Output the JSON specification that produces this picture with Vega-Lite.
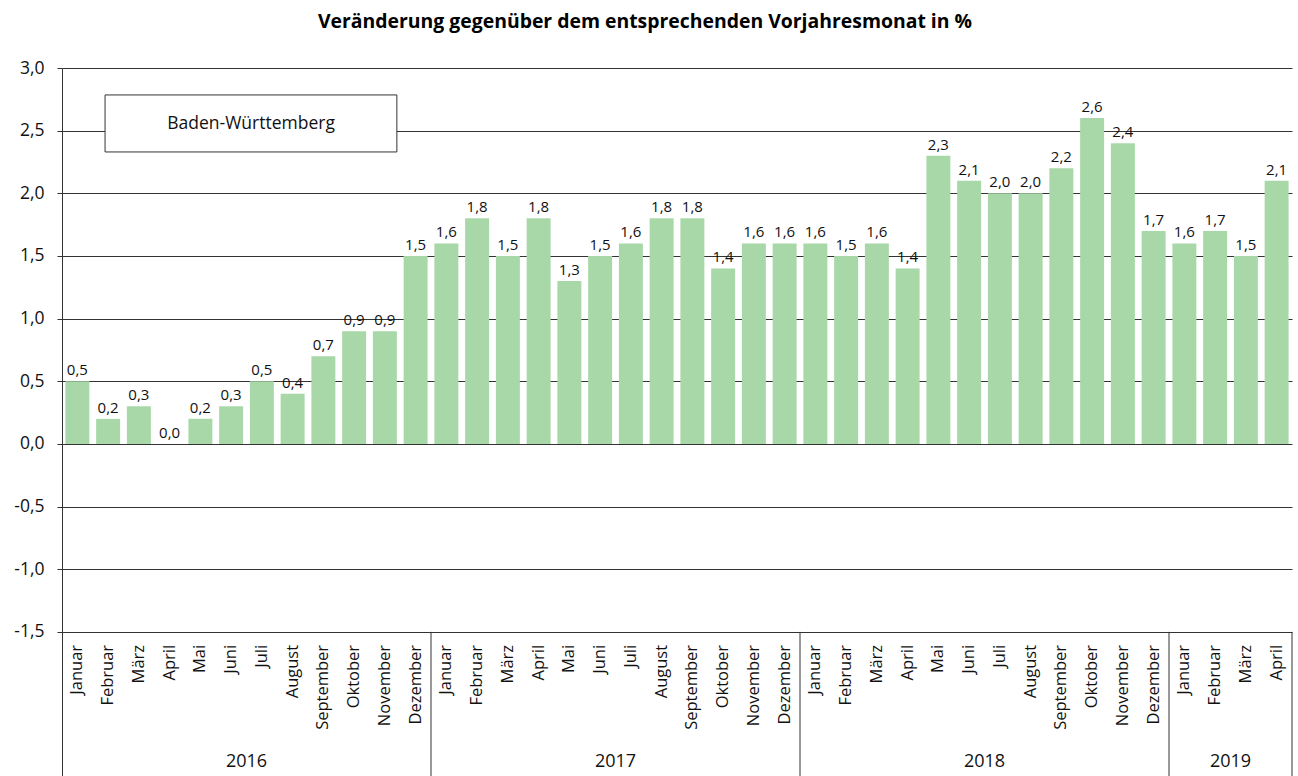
{
  "$schema": "https://vega.github.io/schema/vega-lite/v6.json",
  "width": 1230,
  "height": 708,
  "autosize": {"type": "none"},
  "padding": {"left": 62, "top": 68, "right": 6, "bottom": 0},
  "title": {
    "text": "Veränderung gegenüber dem entsprechenden Vorjahresmonat in %",
    "font": "Open Sans",
    "fontSize": 19.4,
    "fontWeight": "bold",
    "color": "#000000",
    "anchor": "middle",
    "dx": -32,
    "offset": 27
  },
  "config": {
    "view": {"stroke": null},
    "font": "Open Sans",
    "locale": {
      "number": {"decimal": ",", "thousands": ".", "grouping": [3], "currency": ["", " €"], "minus": "-"}
    },
    "text": {"color": "#111111", "font": "Open Sans"}
  },
  "datasets": {
    "monate": [
      {"zeitraum": "2016-01", "jahr": "2016", "monat": "Januar", "wert": 0.5},
      {"zeitraum": "2016-02", "jahr": "2016", "monat": "Februar", "wert": 0.2},
      {"zeitraum": "2016-03", "jahr": "2016", "monat": "März", "wert": 0.3},
      {"zeitraum": "2016-04", "jahr": "2016", "monat": "April", "wert": 0.0},
      {"zeitraum": "2016-05", "jahr": "2016", "monat": "Mai", "wert": 0.2},
      {"zeitraum": "2016-06", "jahr": "2016", "monat": "Juni", "wert": 0.3},
      {"zeitraum": "2016-07", "jahr": "2016", "monat": "Juli", "wert": 0.5},
      {"zeitraum": "2016-08", "jahr": "2016", "monat": "August", "wert": 0.4},
      {"zeitraum": "2016-09", "jahr": "2016", "monat": "September", "wert": 0.7},
      {"zeitraum": "2016-10", "jahr": "2016", "monat": "Oktober", "wert": 0.9},
      {"zeitraum": "2016-11", "jahr": "2016", "monat": "November", "wert": 0.9},
      {"zeitraum": "2016-12", "jahr": "2016", "monat": "Dezember", "wert": 1.5},
      {"zeitraum": "2017-01", "jahr": "2017", "monat": "Januar", "wert": 1.6},
      {"zeitraum": "2017-02", "jahr": "2017", "monat": "Februar", "wert": 1.8},
      {"zeitraum": "2017-03", "jahr": "2017", "monat": "März", "wert": 1.5},
      {"zeitraum": "2017-04", "jahr": "2017", "monat": "April", "wert": 1.8},
      {"zeitraum": "2017-05", "jahr": "2017", "monat": "Mai", "wert": 1.3},
      {"zeitraum": "2017-06", "jahr": "2017", "monat": "Juni", "wert": 1.5},
      {"zeitraum": "2017-07", "jahr": "2017", "monat": "Juli", "wert": 1.6},
      {"zeitraum": "2017-08", "jahr": "2017", "monat": "August", "wert": 1.8},
      {"zeitraum": "2017-09", "jahr": "2017", "monat": "September", "wert": 1.8},
      {"zeitraum": "2017-10", "jahr": "2017", "monat": "Oktober", "wert": 1.4},
      {"zeitraum": "2017-11", "jahr": "2017", "monat": "November", "wert": 1.6},
      {"zeitraum": "2017-12", "jahr": "2017", "monat": "Dezember", "wert": 1.6},
      {"zeitraum": "2018-01", "jahr": "2018", "monat": "Januar", "wert": 1.6},
      {"zeitraum": "2018-02", "jahr": "2018", "monat": "Februar", "wert": 1.5},
      {"zeitraum": "2018-03", "jahr": "2018", "monat": "März", "wert": 1.6},
      {"zeitraum": "2018-04", "jahr": "2018", "monat": "April", "wert": 1.4},
      {"zeitraum": "2018-05", "jahr": "2018", "monat": "Mai", "wert": 2.3},
      {"zeitraum": "2018-06", "jahr": "2018", "monat": "Juni", "wert": 2.1},
      {"zeitraum": "2018-07", "jahr": "2018", "monat": "Juli", "wert": 2.0},
      {"zeitraum": "2018-08", "jahr": "2018", "monat": "August", "wert": 2.0},
      {"zeitraum": "2018-09", "jahr": "2018", "monat": "September", "wert": 2.2},
      {"zeitraum": "2018-10", "jahr": "2018", "monat": "Oktober", "wert": 2.6},
      {"zeitraum": "2018-11", "jahr": "2018", "monat": "November", "wert": 2.4},
      {"zeitraum": "2018-12", "jahr": "2018", "monat": "Dezember", "wert": 1.7},
      {"zeitraum": "2019-01", "jahr": "2019", "monat": "Januar", "wert": 1.6},
      {"zeitraum": "2019-02", "jahr": "2019", "monat": "Februar", "wert": 1.7},
      {"zeitraum": "2019-03", "jahr": "2019", "monat": "März", "wert": 1.5},
      {"zeitraum": "2019-04", "jahr": "2019", "monat": "April", "wert": 2.1}
    ],
    "jahre": [
      {"jahr": "2016", "mitte": "2016-07", "ende": "2016-12"},
      {"jahr": "2017", "mitte": "2017-07", "ende": "2017-12"},
      {"jahr": "2018", "mitte": "2018-07", "ende": "2018-12"},
      {"jahr": "2019", "mitte": "2019-03", "ende": "2019-04"}
    ],
    "region": [{"name": "Baden-Württemberg"}]
  },
  "layer": [
    {
      "layer": [
        {
          "data": {"name": "monate"},
          "mark": {"type": "bar", "color": "#a8d8a8"},
          "encoding": {
            "x": {"field": "zeitraum", "type": "ordinal", "scale": {"paddingInner": 0.22, "paddingOuter": 0.11}, "axis": null},
            "y": {
              "field": "wert",
              "type": "quantitative",
              "title": null,
              "scale": {"domain": [-2.65, 3], "nice": false, "zero": false},
              "axis": {
                "title": null,
                "values": [-1.5, -1, -0.5, 0, 0.5, 1, 1.5, 2, 2.5, 3],
                "format": ".1f",
                "grid": true,
                "gridColor": "#333333",
                "gridOpacity": 1,
                "domainColor": "#333333",
                "tickColor": "#333333",
                "tickSize": 5,
                "labelPadding": 13,
                "labelFontSize": 17.5,
                "labelColor": "#111111",
                "labelFont": "Open Sans"
              }
            },
            "y2": {"datum": 0}
          }
        },
        {
          "data": {"name": "monate"},
          "mark": {"type": "text", "fontSize": 15, "baseline": "alphabetic", "dy": -6},
          "encoding": {
            "x": {"field": "zeitraum", "type": "ordinal", "axis": null},
            "y": {"field": "wert", "type": "quantitative", "title": null},
            "text": {"field": "wert", "type": "quantitative", "format": ".1f"}
          }
        },
        {
          "data": {"name": "monate"},
          "mark": {"type": "text", "fontSize": 16.5, "angle": 270, "align": "right", "baseline": "middle", "dx": -13},
          "encoding": {
            "x": {"field": "zeitraum", "type": "ordinal", "axis": null},
            "y": {"datum": -1.5, "type": "quantitative", "title": null},
            "text": {"field": "monat", "type": "nominal"}
          }
        },
        {
          "data": {"name": "jahre"},
          "mark": {"type": "rule", "color": "#333333", "strokeWidth": 1, "xOffset": 15.375},
          "encoding": {
            "x": {"field": "ende", "type": "ordinal", "axis": null},
            "y": {"datum": -1.5, "type": "quantitative", "title": null},
            "y2": {"datum": -2.65}
          }
        },
        {
          "data": {"name": "jahre"},
          "mark": {"type": "text", "fontSize": 18, "baseline": "middle", "align": "center", "dx": -15.375},
          "encoding": {
            "x": {"field": "mitte", "type": "ordinal", "axis": null},
            "y": {"datum": -2.54, "type": "quantitative", "title": null},
            "text": {"field": "jahr", "type": "nominal"}
          }
        }
      ]
    },
    {
      "data": {"name": "region"},
      "layer": [
        {
          "mark": {"type": "rect", "fill": "#ffffff", "stroke": "#333333", "strokeWidth": 1},
          "encoding": {
            "x": {"datum": 1.4, "type": "quantitative", "scale": {"domain": [0, 40], "nice": false, "zero": false}, "axis": null},
            "x2": {"datum": 10.89},
            "y": {"datum": 2.785, "type": "quantitative", "title": null},
            "y2": {"datum": 2.33}
          }
        },
        {
          "mark": {"type": "text", "fontSize": 17.5, "align": "center", "baseline": "middle"},
          "encoding": {
            "x": {"datum": 6.15, "type": "quantitative", "axis": null},
            "y": {"datum": 2.557, "type": "quantitative", "title": null},
            "text": {"field": "name", "type": "nominal"}
          }
        }
      ]
    }
  ],
  "resolve": {"scale": {"x": "independent"}}
}
